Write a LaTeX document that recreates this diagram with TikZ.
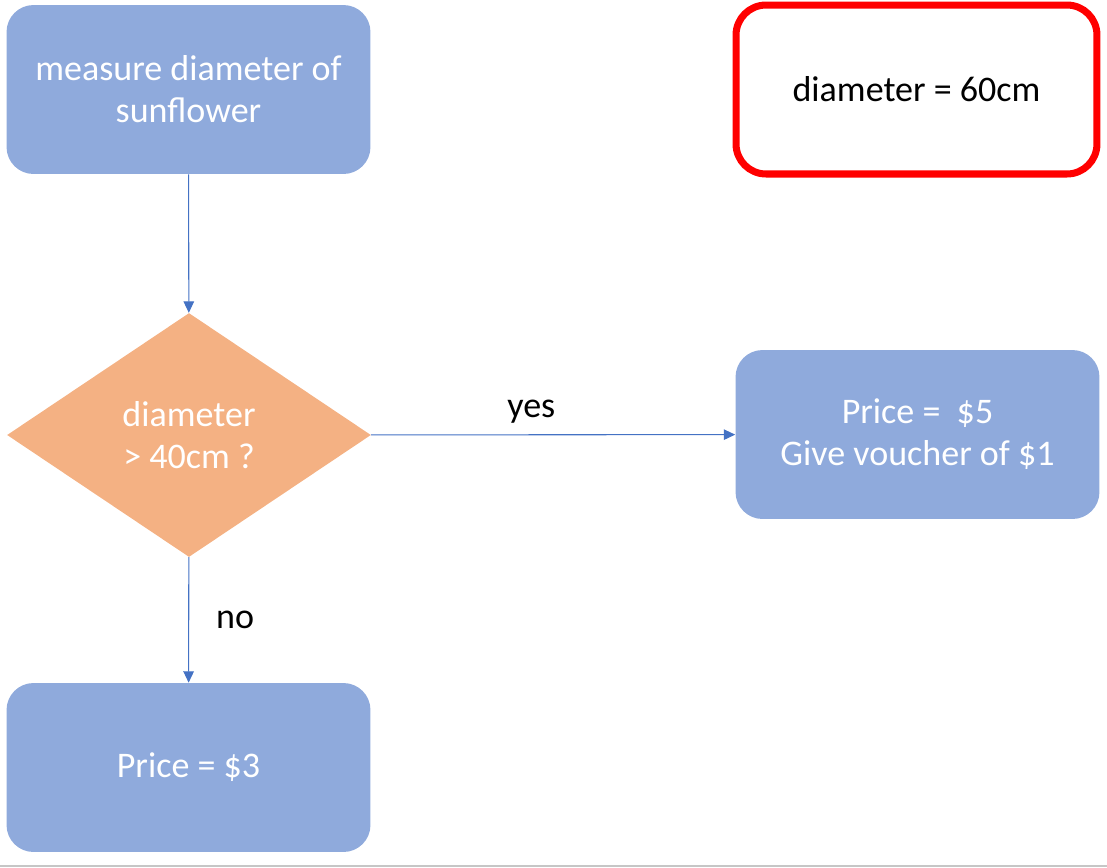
\documentclass[tikz,border=0pt]{standalone}
\usepackage{fontspec}
\setmainfont{Carlito}
\usetikzlibrary{shapes.geometric}
\usetikzlibrary{arrows.meta}
\definecolor{boxblue}{HTML}{8FAADC}
\definecolor{diaorange}{HTML}{F4B183}
\definecolor{linkblue}{HTML}{4472C4}
\tikzset{
  stepbox/.style={rectangle,rounded corners=0.54cm,fill=boxblue,text=white,
    minimum width=7.28cm,minimum height=3.38cm,align=center,inner sep=0pt},
  decide/.style={diamond,fill=diaorange,text=white,align=center,
    minimum width=7.28cm,minimum height=4.88cm,inner sep=0pt,aspect=1.49},
  notebox/.style={rectangle,rounded corners=0.6cm,draw=red,line width=4pt,fill=white,
    minimum width=7.22cm,minimum height=3.38cm,align=center,inner sep=0pt},
  link/.style={->,draw=linkblue,line width=0.6pt},
  txt/.style={font=\fontsize{20.5}{24}\selectfont}
}

\begin{document}
\begin{tikzpicture}[x=0.02cm,y=-0.02cm,>={Triangle[width=6pt,length=6.5pt]}]
        \useasboundingbox (0,0) rectangle (1107,867);
        \draw[gray!45,line width=0.6pt] (0,866) -- (1107,866);
        % boxes
        \node[stepbox,txt] (measure) at (188.5,89.5) {measure diameter of\\sunflower};
        \node[decide,txt] (check) at (189,435) {diameter\\> 40cm ?};
        \node[stepbox,txt] (five) at (917.5,434.5) {Price =\ \ \$5\\Give voucher of \$1};
        \node[stepbox,txt] (three) at (188.5,767.5) {Price = \$3};
        \node[notebox,txt] (given) at (916.5,89.5) {diameter = 60cm};
        % links
        \draw[link] (check) -- node[pos=0.44,above=3pt,txt,text=black] {yes} (five);
        \draw[link] (measure) -- (check);
        \draw[link] (check) -- node[right=12pt,txt,text=black] {no} (three);
\end{tikzpicture}
\end{document}
